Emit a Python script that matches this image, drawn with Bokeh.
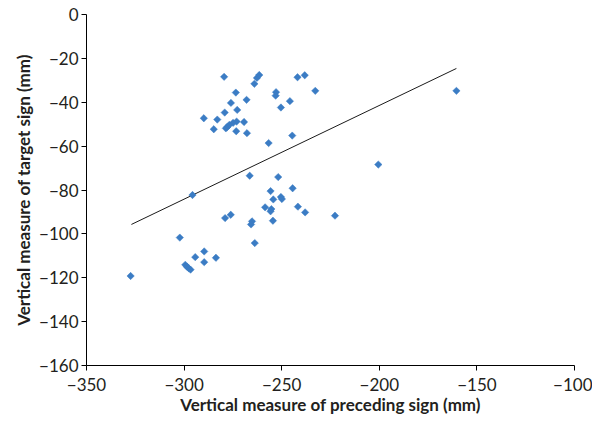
from bokeh.plotting import figure
from bokeh.models import Range1d, FixedTicker
from bokeh.embed import file_html
from bokeh.resources import INLINE

# Data
preceding = [-279.5, -264.0, -262.7, -261.5, -241.9, -238.2, -232.8, -160.5, -273.5, -252.9,
             -253.1, -268.0, -276.0, -245.8, -272.8, -250.4, -279.2, -289.9, -283.0, -269.3,
             -273.1, -274.9, -276.8, -277.9, -278.6, -284.8, -273.3, -267.8, -244.6, -256.7,
             -200.5, -266.4, -251.8, -295.7, -255.7, -244.4, -250.4, -249.9, -254.3, -258.5,
             -255.3, -255.7, -241.7, -238.0, -222.7, -279.0, -276.1, -254.5, -265.2, -265.7,
             -263.8, -302.2, -289.7, -294.3, -283.7, -289.7, -299.4, -298.5, -297.6, -296.7,
             -327.4]
target = [-28.4, -31.6, -28.9, -27.6, -28.6, -27.7, -34.8, -34.8, -35.6, -35.4,
          -37.0, -38.9, -40.3, -39.5, -43.5, -42.4, -44.7, -47.3, -47.9, -49.0,
          -48.8, -49.4, -50.3, -51.3, -51.9, -52.3, -53.2, -54.1, -55.2, -58.6,
          -68.4, -73.5, -74.1, -82.3, -80.5, -79.2, -83.2, -84.1, -84.3, -87.9,
          -88.7, -89.7, -87.6, -90.2, -91.7, -92.8, -91.3, -94.0, -94.3, -95.7,
          -104.2, -101.7, -108.0, -110.6, -110.9, -112.9, -114.1, -115.0, -115.7, -116.3,
          -119.2]

trend_x = [-327.0, -160.5]
trend_y = [-95.7, -24.6]

x_ticks = [-350, -300, -250, -200, -150, -100]
x_labels = ["\u2212350", "\u2212300", "\u2212250", "\u2212200", "\u2212150", "\u2212100"]
y_ticks = [0, -20, -40, -60, -80, -100, -120, -140, -160]
y_labels = ["0", "\u221220", "\u221240", "\u221260", "\u221280", "\u2212100", "\u2212120", "\u2212140", "\u2212160"]

FONT = "Lato"
BLUE = "#3b7cc4"

p = figure(width=592, height=421, output_backend="svg", toolbar_location=None,
           x_range=Range1d(-350, -100), y_range=Range1d(-160, 0),
           min_border_left=86, min_border_right=18, min_border_top=14, min_border_bottom=56)
p.outline_line_color = None
p.xgrid.visible = False
p.ygrid.visible = False
p.background_fill_color = "white"
p.border_fill_color = "white"

p.line(trend_x, trend_y, line_color="#1a1a1a", line_width=1)
p.scatter(preceding, target, marker="square", angle=0.7854, size=5.2,
          fill_color=BLUE, line_color=BLUE, line_width=0.5)

for ax, ticks, labels in ((p.xaxis[0], x_ticks, x_labels), (p.yaxis[0], y_ticks, y_labels)):
    ax.ticker = FixedTicker(ticks=ticks)
    ax.major_label_overrides = {t: l for t, l in zip(ticks, labels)}
    ax.minor_tick_line_color = None
    ax.major_tick_in = 0
    ax.major_tick_out = 5
    ax.axis_line_color = "black"
    ax.major_tick_line_color = "black"
    ax.major_label_text_font = FONT
    ax.major_label_text_font_size = "17px"
    ax.major_label_text_color = "#231f20"
    ax.axis_label_text_font = FONT
    ax.axis_label_text_font_size = "17px"
    ax.axis_label_text_font_style = "bold"
    ax.axis_label_text_color = "#231f20"

p.xaxis.axis_label = "Vertical measure of preceding sign (mm)"
p.yaxis.axis_label = "Vertical measure of target sign (mm)"
p.xaxis.major_label_standoff = 7
p.yaxis.major_label_standoff = 3
p.xaxis.axis_label_standoff = 0
p.yaxis.axis_label_standoff = 2

open("out.html", "w").write(file_html(p, INLINE))
